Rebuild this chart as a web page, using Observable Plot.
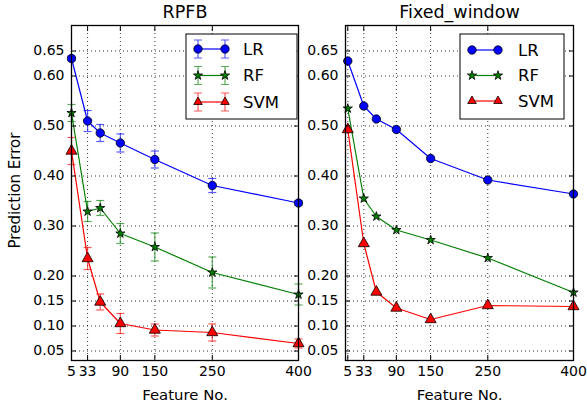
<!DOCTYPE html>
<html><head><meta charset="utf-8">
<script src="https://cdn.jsdelivr.net/npm/d3@7"></script>
<script src="https://cdn.jsdelivr.net/npm/@observablehq/plot@0.6"></script>
<style>
body{margin:0;background:#fff;}
#wrap{position:relative;width:587px;height:406px;font-family:"DejaVu Sans",sans-serif;}
#wrap > *{position:absolute;top:0;}
</style></head><body><div id="wrap"></div>
<script>
// ---- data ----
const features = [5, 33, 55, 90, 150, 250, 400];
const xTicks = [5, 33, 90, 150, 250, 400];
const yTicks = [0.05, 0.10, 0.15, 0.20, 0.30, 0.40, 0.50, 0.60, 0.65];
const models = ["LR", "RF", "SVM"];
const modelColors = ["#0000ff", "#008000", "#ff0000"];
const modelSymbols = ["circle", "star", "triangle"];
const panelTitles = ["RPFB", "Fixed_window"];
const xLabel = "Feature No.";
const yLabelText = "Prediction Error";

const rpfbLR     = [0.635, 0.510, 0.486, 0.466, 0.433, 0.381, 0.346];
const rpfbLRErr  = [0.005, 0.021, 0.017, 0.018, 0.017, 0.014, 0.005];
const rpfbRF     = [0.526, 0.329, 0.336, 0.285, 0.258, 0.207, 0.163];
const rpfbRFErr  = [0.017, 0.020, 0.015, 0.020, 0.028, 0.031, 0.021];
const rpfbSVM    = [0.450, 0.235, 0.148, 0.105, 0.092, 0.087, 0.065];
const rpfbSVMErr = [0.027, 0.022, 0.016, 0.020, 0.012, 0.017, 0.009];

const fwLR  = [0.630, 0.540, 0.514, 0.493, 0.435, 0.392, 0.364];
const fwRF  = [0.535, 0.355, 0.319, 0.292, 0.272, 0.236, 0.167];
const fwSVM = [0.493, 0.265, 0.168, 0.136, 0.113, 0.141, 0.139];

// ---- build tables ----
function rows(seriesList, errList) {
  const out = [];
  seriesList.forEach((vals, i) => {
    vals.forEach((v, j) => out.push({model: models[i], x: features[j], y: v, err: errList ? errList[i][j] : 0}));
  });
  return out;
}
const rpfbRows = rows([rpfbLR, rpfbRF, rpfbSVM], [rpfbLRErr, rpfbRFErr, rpfbSVMErr]);
const fwRows = rows([fwLR, fwRF, fwSVM], null);

const capSymbol = {draw(ctx, size) { const w = Math.sqrt(size / Math.PI); ctx.moveTo(-w, 0); ctx.lineTo(w, 0); }};
const symbolR = {LR: 4.2, RF: 2.9, SVM: 4.1};

function panel({title, data, errors, xDomain, width, marginLeft, marginRight, yLabel}) {
  const marks = [
    Plot.gridX(xTicks, {stroke: "#000", strokeOpacity: 0.8, strokeDasharray: "1,3"}),
    Plot.gridY(yTicks, {stroke: "#000", strokeOpacity: 0.8, strokeDasharray: "1,3"}),
  ];
  if (errors) {
    marks.push(
      Plot.ruleX(data, {x: "x", y1: d => d.y - d.err, y2: d => d.y + d.err, stroke: "model", strokeOpacity: 0.65, strokeWidth: 1.2}),
      Plot.dot(data, {x: "x", y: d => d.y - d.err, symbol: capSymbol, r: 4, stroke: "model", strokeOpacity: 0.65, strokeWidth: 1.2}),
      Plot.dot(data, {x: "x", y: d => d.y + d.err, symbol: capSymbol, r: 4, stroke: "model", strokeOpacity: 0.65, strokeWidth: 1.2})
    );
  }
  marks.push(Plot.line(data, {x: "x", y: "y", z: "model", stroke: "model", strokeWidth: 1.2}));
  models.forEach((m, i) => {
    marks.push(Plot.dot(data.filter(d => d.model === m), {x: "x", y: "y", symbol: modelSymbols[i], r: symbolR[m], fill: "model", stroke: "black", strokeWidth: 0.8}));
  });
  marks.push(
    Plot.axisX(xTicks, {anchor: "bottom", tickSize: -5, tickPadding: 11, fontSize: 14, label: null}),
    Plot.axisX(xTicks, {anchor: "top", tickSize: -5, tickFormat: () => "", label: null}),
    Plot.axisY(yTicks, {anchor: "left", tickSize: -5, tickPadding: 12, fontSize: 14, tickFormat: d => d.toFixed(2), label: null}),
    Plot.axisY(yTicks, {anchor: "right", tickSize: -5, tickFormat: () => "", label: null}),
    Plot.frame({stroke: "black", strokeWidth: 1.3}),
    Plot.text([title], {frameAnchor: "top", dy: -13, fontSize: 17.5, lineAnchor: "middle"}),
    Plot.text([xLabel], {frameAnchor: "bottom", dy: 34.5, fontSize: 14.9, lineAnchor: "middle"})
  );
  if (yLabel) marks.push(Plot.text([yLabel], {frameAnchor: "left", dx: -56, dy: -2.5, rotate: -90, fontSize: 15, textAnchor: "middle", lineAnchor: "middle"}));
  return Plot.plot({
    width, height: 406,
    marginLeft, marginRight, marginTop: 25, marginBottom: 46,
    x: {domain: xDomain},
    y: {domain: [0.031, 0.701]},
    color: {domain: models, range: modelColors},
    style: {fontFamily: "DejaVu Sans", fontSize: "14px", background: "transparent", overflow: "visible"},
    marks
  });
}

const wrap = document.getElementById("wrap");
const left = panel({title: panelTitles[0], data: rpfbRows, errors: true, xDomain: [5, 400], width: 300, marginLeft: 71, marginRight: 2, yLabel: yLabelText});
left.style.left = "0px";
wrap.appendChild(left);
const right = panel({title: panelTitles[1], data: fwRows, errors: false, xDomain: [1, 400], width: 297, marginLeft: 55, marginRight: 14, yLabel: null});
right.style.left = "290px";
wrap.appendChild(right);

// ---- legends ----
const symMap = {circle: d3.symbolCircle, star: d3.symbolStar, triangle: d3.symbolTriangle2};
function legend(box, withErr) {
  const svg = d3.create("svg").attr("width", 587).attr("height", 406).style("left", "0px").style("position", "absolute");
  svg.append("rect").attr("x", box.x).attr("y", box.y).attr("width", box.w).attr("height", box.h)
    .attr("fill", "white").attr("stroke", "black").attr("stroke-width", 1);
  models.forEach((m, i) => {
    const yy = box.rows[i];
    const g = svg.append("g");
    [box.x1, box.x2].forEach(xx => {
      if (withErr) {
        g.append("path").attr("d", `M${xx},${yy - 9}V${yy + 9}M${xx - 4},${yy - 9}H${xx + 4}M${xx - 4},${yy + 9}H${xx + 4}`)
          .attr("stroke", modelColors[i]).attr("stroke-opacity", 0.65).attr("stroke-width", 1.2).attr("fill", "none");
      }
    });
    g.append("line").attr("x1", box.x1).attr("x2", box.x2).attr("y1", yy).attr("y2", yy).attr("stroke", modelColors[i]).attr("stroke-width", 1.2);
    [box.x1, box.x2].forEach(xx => {
      const r = symbolR[m];
      g.append("path").attr("transform", `translate(${xx},${yy})`)
        .attr("d", d3.symbol(symMap[modelSymbols[i]], r * r * Math.PI)())
        .attr("fill", modelColors[i]).attr("stroke", "black").attr("stroke-width", 0.8);
    });
    g.append("text").attr("x", box.tx).attr("y", yy).attr("dy", "0.35em")
      .attr("font-family", "DejaVu Sans").attr("font-size", 16.5).text(m);
  });
  wrap.appendChild(svg.node());
}
legend({x: 186, y: 34, w: 111, h: 85, rows: [49, 75.5, 102], x1: 198, x2: 225, tx: 243}, true);
legend({x: 460, y: 34, w: 104, h: 85, rows: [50, 75.5, 101], x1: 472, x2: 498, tx: 518}, false);
</script></body></html>
